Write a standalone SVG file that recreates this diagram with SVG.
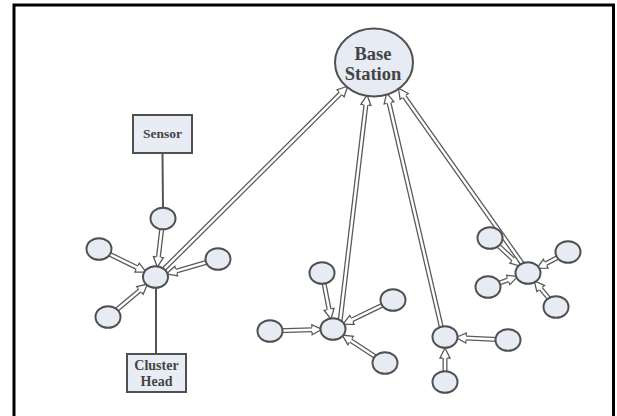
<svg xmlns="http://www.w3.org/2000/svg" width="617" height="416" viewBox="0 0 617 416">
<style>
.frame{fill:none;stroke:#000;stroke-width:3}
.o{stroke:#5a5a5a;stroke-width:5;fill:none}
.i{stroke:#fff;stroke-width:2.4;fill:none;marker-end:url(#ah)}
.plain{stroke:#555;stroke-width:2;fill:none}
.n{fill:#e6ebf4;stroke:#505050;stroke-width:2}
.box{fill:#e8edf5;stroke:#505050;stroke-width:2}
.t{font-family:"Liberation Serif","Times New Roman",serif;fill:#444;text-anchor:middle;font-weight:bold}
</style>
<defs>
<marker id="ah" markerUnits="userSpaceOnUse" markerWidth="14" markerHeight="14" viewBox="-1 -7 13 14" refX="0" refY="0" orient="auto" overflow="visible">
<polygon points="0,-5 10,0 0,5" fill="#fff"/>
<path d="M0,-2.4 L0,-5 L10,0 L0,5 L0,2.4" fill="none" stroke="#5a5a5a" stroke-width="1.3"/>
</marker>
</defs>
<rect class="frame" x="14" y="5" width="599.5" height="420"/>
<g id="connectors">
<line class="plain" x1="162.5" y1="153" x2="163" y2="210"/>
<line class="plain" x1="156" y1="285" x2="156" y2="354"/>
<line class="o" x1="163" y1="218" x2="158.4" y2="257.1"/><line class="i" x1="163" y1="218" x2="158.4" y2="257.1"/>
<line class="o" x1="99" y1="249" x2="137.1" y2="267.7"/><line class="i" x1="99" y1="249" x2="137.1" y2="267.7"/>
<line class="o" x1="218" y1="259" x2="176.2" y2="271.1"/><line class="i" x1="218" y1="259" x2="176.2" y2="271.1"/>
<line class="o" x1="108" y1="317" x2="139.9" y2="290.4"/><line class="i" x1="108" y1="317" x2="139.9" y2="290.4"/>
<line class="o" x1="156" y1="277" x2="340.6" y2="93.3"/><line class="i" x1="156" y1="277" x2="340.6" y2="93.3"/>
<line class="o" x1="322" y1="273" x2="329.1" y2="309.4"/><line class="i" x1="322" y1="273" x2="329.1" y2="309.4"/>
<line class="o" x1="393" y1="300" x2="351.9" y2="319.9"/><line class="i" x1="393" y1="300" x2="351.9" y2="319.9"/>
<line class="o" x1="270" y1="331" x2="312" y2="329.7"/><line class="i" x1="270" y1="331" x2="312" y2="329.7"/>
<line class="o" x1="385" y1="363" x2="350.6" y2="340.5"/><line class="i" x1="385" y1="363" x2="350.6" y2="340.5"/>
<line class="o" x1="340" y1="322" x2="365.9" y2="104.9"/><line class="i" x1="340" y1="322" x2="365.9" y2="104.9"/>
<line class="o" x1="442" y1="330" x2="389" y2="102.8"/><line class="i" x1="442" y1="330" x2="389" y2="102.8"/>
<line class="o" x1="508" y1="340" x2="466" y2="338"/><line class="i" x1="508" y1="340" x2="466" y2="338"/>
<line class="o" x1="445" y1="382" x2="445" y2="358"/><line class="i" x1="445" y1="382" x2="445" y2="358"/>
<line class="o" x1="490" y1="238" x2="513.3" y2="259.5"/><line class="i" x1="490" y1="238" x2="513.3" y2="259.5"/>
<line class="o" x1="568" y1="252" x2="545.7" y2="263.7"/><line class="i" x1="568" y1="252" x2="545.7" y2="263.7"/>
<line class="o" x1="488" y1="287" x2="508.2" y2="279.9"/><line class="i" x1="488" y1="287" x2="508.2" y2="279.9"/>
<line class="o" x1="556" y1="307" x2="540.7" y2="288.5"/><line class="i" x1="556" y1="307" x2="540.7" y2="288.5"/>
<line class="o" x1="524" y1="266" x2="404.2" y2="96.4"/><line class="i" x1="524" y1="266" x2="404.2" y2="96.4"/>
</g>
<g id="base-station"><ellipse class="n" cx="374" cy="62.5" rx="39" ry="34"/><text class="t" x="373" y="60" font-size="18.5">Base</text><text class="t" x="373" y="80" font-size="18.5">Station</text></g>
<g id="sensor"><rect class="box" x="133" y="115" width="59" height="38"/><text class="t" x="162.5" y="138" font-size="13.5">Sensor</text></g>
<g id="cluster-head-label"><rect class="box" x="127" y="354" width="59" height="38"/><text class="t" x="156.5" y="369.5" font-size="14">Cluster</text><text class="t" x="156.5" y="385.5" font-size="14">Head</text></g>
<g id="n1"><ellipse class="n" cx="163" cy="218.5" rx="12.5" ry="10.8"/></g>
<g id="ch1"><ellipse class="n" cx="155.5" cy="277" rx="12.5" ry="10.8"/></g>
<g id="n2"><ellipse class="n" cx="99" cy="249" rx="12.5" ry="10.8"/></g>
<g id="n3"><ellipse class="n" cx="218" cy="259" rx="12.5" ry="10.8"/></g>
<g id="n4"><ellipse class="n" cx="108" cy="317" rx="12.5" ry="10.8"/></g>
<g id="ch2"><ellipse class="n" cx="333" cy="329" rx="12.5" ry="10.8"/></g>
<g id="n5"><ellipse class="n" cx="322" cy="273" rx="12.5" ry="10.8"/></g>
<g id="n6"><ellipse class="n" cx="393" cy="300" rx="12.5" ry="10.8"/></g>
<g id="n7"><ellipse class="n" cx="270" cy="331" rx="12.5" ry="10.8"/></g>
<g id="n8"><ellipse class="n" cx="385" cy="363" rx="12.5" ry="10.8"/></g>
<g id="ch3"><ellipse class="n" cx="445" cy="337" rx="12.5" ry="10.8"/></g>
<g id="n9"><ellipse class="n" cx="508" cy="340" rx="12.5" ry="10.8"/></g>
<g id="n10"><ellipse class="n" cx="445" cy="382" rx="12.5" ry="10.8"/></g>
<g id="ch4"><ellipse class="n" cx="528" cy="273" rx="12.5" ry="10.8"/></g>
<g id="n11"><ellipse class="n" cx="490" cy="238" rx="12.5" ry="10.8"/></g>
<g id="n12"><ellipse class="n" cx="568" cy="252" rx="12.5" ry="10.8"/></g>
<g id="n13"><ellipse class="n" cx="488" cy="287" rx="12.5" ry="10.8"/></g>
<g id="n14"><ellipse class="n" cx="556" cy="307" rx="12.5" ry="10.8"/></g>
</svg>
